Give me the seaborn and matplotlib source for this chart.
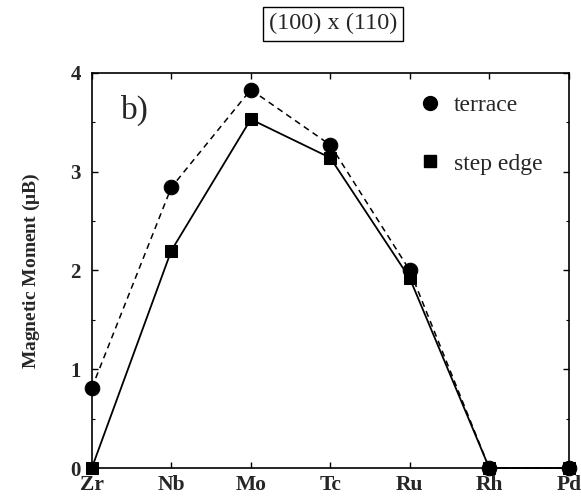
import numpy as np
import pandas as pd
import matplotlib
matplotlib.use("Agg")
import matplotlib.pyplot as plt
from matplotlib.lines import Line2D
from matplotlib.ticker import MultipleLocator
import seaborn as sns

categories = ["Zr", "Nb", "Mo", "Tc", "Ru", "Rh", "Pd"]
terrace = [0.81, 2.84, 3.83, 3.27, 2.00, 0.0, 0.0]
step_edge = [0.0, 2.20, 3.53, 3.14, 1.92, 0.0, 0.0]
yticks = [0, 1, 2, 3, 4]

sns.set_theme(style="ticks")
plt.rcParams["font.family"] = ["Liberation Serif", "DejaVu Serif"]
plt.rcParams["mathtext.fontset"] = "stix"

pos = np.arange(len(categories))
df = pd.DataFrame({"pos": pos, "terrace": terrace, "step": step_edge})

fig = plt.figure(figsize=(5.81, 4.99), dpi=100)
ax = fig.add_axes([0.158, 0.062, 0.821, 0.792])

sns.lineplot(data=df, x="pos", y="terrace", ax=ax, color="black",
             linewidth=1.1, marker="o", markersize=10.5, markeredgecolor="black")
ax.lines[-1].set_linestyle((0, (4, 3)))
sns.lineplot(data=df, x="pos", y="step", ax=ax, color="black", linestyle="-",
             linewidth=1.3, marker="s", markersize=9, markeredgecolor="black")
for ln in ax.lines:
    ln.set_clip_on(False)
    ln.set_zorder(5)

ax.set_xlim(0, len(categories) - 1)
ax.set_ylim(0, 4)
ax.set_xticks(pos)
ax.set_xticklabels(categories, fontweight="bold", fontsize=15.5)
ax.set_yticks(yticks)
ax.set_yticklabels([str(v) for v in yticks], fontweight="bold", fontsize=15)
ax.yaxis.set_minor_locator(MultipleLocator(0.5))
ax.tick_params(axis="both", which="both", direction="in", top=True, right=True,
               color="black")
ax.tick_params(axis="both", which="major", length=4, width=1)
ax.tick_params(axis="both", which="minor", length=2.5, width=0.8)
ax.tick_params(axis="x", pad=5)
ax.tick_params(axis="y", pad=8)
for s in ax.spines.values():
    s.set_linewidth(1.2)
    s.set_color("black")
    s.set_visible(True)

ax.set_xlabel("")
ax.set_ylabel(r"Magnetic Moment ($\mathregular{\mu}$B)", fontweight="bold", fontsize=14,
              labelpad=20)

ax.text(0.062, 0.945, "b)", transform=ax.transAxes, fontsize=24, va="top", ha="left")

handles = [Line2D([], [], color="black", marker="o", linestyle="none", markersize=10),
           Line2D([], [], color="black", marker="s", linestyle="none", markersize=9)]
ax.legend(handles, ["terrace", "step edge"], loc="upper right", frameon=False,
          fontsize=17, labelspacing=1.55, handletextpad=0.5, handlelength=1.0,
          borderaxespad=0.0, bbox_to_anchor=(0.965, 0.968))

fig.text(0.573, 0.952, "(100) x (110)", ha="center", va="center", fontsize=17.5,
         bbox=dict(boxstyle="square,pad=0.25", facecolor="white", edgecolor="black",
                   linewidth=1))

fig.savefig("out.png", dpi=100)
